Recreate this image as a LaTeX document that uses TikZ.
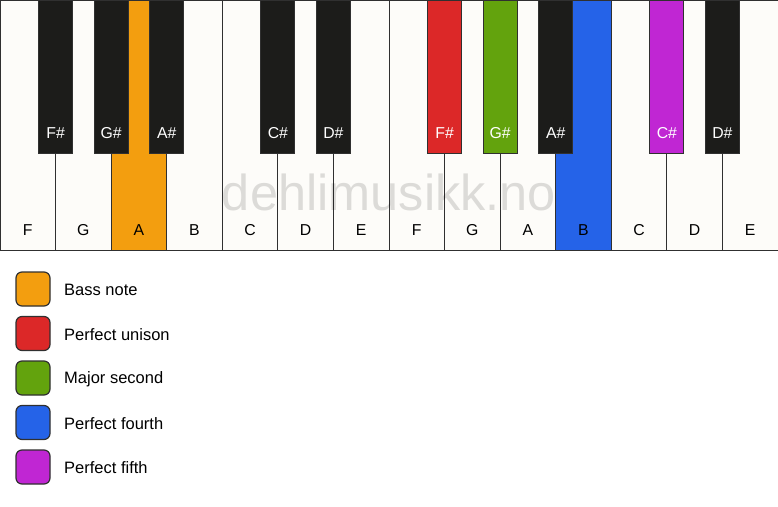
\documentclass[tikz,border=0pt]{standalone}
\usepackage{fontspec}
\setmainfont{Liberation Sans}
\usetikzlibrary{positioning}

\definecolor{keywhite}{HTML}{FDFCF9}
\definecolor{keyblack}{HTML}{1C1C1A}
\definecolor{keyline}{HTML}{303030}
\definecolor{bassnote}{HTML}{F39E0F}
\definecolor{unison}{HTML}{DC2828}
\definecolor{second}{HTML}{63A30D}
\definecolor{fourth}{HTML}{2563E8}
\definecolor{fifth}{HTML}{C026D3}

\tikzset{
  whitekey/.style={draw=keyline, line width=1pt, minimum width=55.571pt,
    minimum height=250pt, inner sep=0pt, outer sep=0pt},
  blackkey/.style={draw=keyline, line width=0.8pt, minimum width=34pt,
    minimum height=153pt, inner sep=0pt, outer sep=0pt},
  keyname/.style={font=\fontsize{15.8}{18}\selectfont, inner sep=0pt},
  legendbox/.style={draw=keyline, line width=1.2pt, rounded corners=6pt,
    minimum size=34pt, inner sep=0pt, outer sep=0pt},
  legendtext/.style={font=\fontsize{16.5}{19}\selectfont, inner sep=0pt,
    yshift=-1pt},
  watermark/.style={font=\fontsize{50.5}{58}\selectfont, text=black,
    text opacity=0.13, inner sep=0pt}
}

\begin{document}
\begin{tikzpicture}[x=1pt,y=-1pt]
  \fill[white] (0,0) rectangle (778,506);
  \useasboundingbox (0,0) rectangle (778,506);

  % white keys
  \foreach \n/\c [count=\i from 0] in {F/keywhite, G/keywhite, A/bassnote,
      B/keywhite, C/keywhite, D/keywhite, E/keywhite, F/keywhite, G/keywhite,
      A/keywhite, B/fourth, C/keywhite, D/keywhite, E/keywhite} {
    \node[whitekey, fill=\c] (white\i) at ({(\i+0.5)*55.571},125) {};
    \node[keyname] (wname\i) at ({(\i+0.5)*55.571},230) {\n};
  }

  \node[watermark] (site) at (389,192) {dehlimusikk.no};

  % black keys
  \foreach \n/\b/\c in {F\#/1/keyblack, G\#/2/keyblack, A\#/3/keyblack,
      C\#/5/keyblack, D\#/6/keyblack, F\#/8/unison, G\#/9/second,
      A\#/10/keyblack, C\#/12/fifth, D\#/13/keyblack} {
    \node[blackkey, fill=\c] (black\b) at ({\b*55.571},76.5) {};
    \node[keyname, text=white] (bname\b) at ({\b*55.571},133) {\n};
  }

  % legend
  \foreach \t/\c [count=\i from 0] in {Bass note/bassnote,
      Perfect unison/unison, Major second/second,
      Perfect fourth/fourth, Perfect fifth/fifth} {
    \node[legendbox, fill=\c] (box\i) at (33,{289+\i*44.5}) {};
    \node[legendtext, right=14pt of box\i] (text\i) {\t};
  }
\end{tikzpicture}
\end{document}
